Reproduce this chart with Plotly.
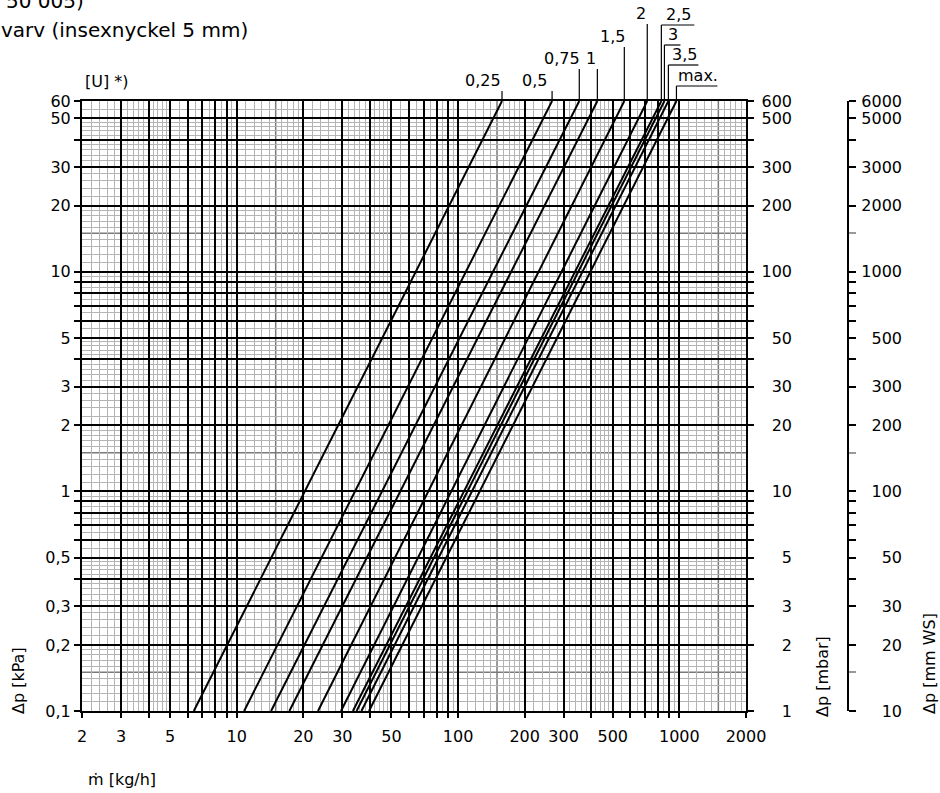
import numpy as np
import plotly.graph_objects as go

# ---------------- data ----------------
settings = ["0,25", "0,5", "0,75", "1", "1,5", "2", "2,5", "3", "3,5", "max."]
dp_ends = [0.1, 60]                       # kPa, ends of every characteristic line
flow_at_min_dp = [6.4, 10.8, 14.3, 17.3, 23.3, 29.6, 33.5, 34.8, 36.6, 39.6]   # kg/h at 0.1 kPa
flow_at_max_dp = [158, 266, 353, 426, 564, 716, 829, 856, 892, 970]            # kg/h at 60 kPa

x_label_vals = [2, 3, 5, 10, 20, 30, 50, 100, 200, 300, 500, 1000, 2000]
x_label_text = ["2", "3", "5", "10", "20", "30", "50", "100", "200", "300", "500", "1000", "2000"]
y_label_vals = [0.1, 0.2, 0.3, 0.5, 1, 2, 3, 5, 10, 20, 30, 50, 60]
y_label_text = ["0,1", "0,2", "0,3", "0,5", "1", "2", "3", "5", "10", "20", "30", "50", "60"]
mbar_label_vals = [1, 2, 3, 5, 10, 20, 30, 50, 100, 200, 300, 500, 600]
ws_label_vals = [10, 20, 30, 50, 100, 200, 300, 500, 1000, 2000, 3000, 5000, 6000]

# ---------------- layout constants ----------------
W, H = 940, 793
ML, MR, MT, MB = 82, 10, 101, 82
PW = W - ML - MR
PH = H - MT - MB
PLOT_RIGHT = 746
FONT = "DejaVu Sans, Arial, sans-serif"


def X(px):
    return (px - ML) / PW


def Y(py):
    return (H - MB - py) / PH


def majors(lo, hi):
    out = []
    for d in [0.1, 1, 10, 100, 1000]:
        for k in range(1, 10):
            v = round(k * d, 6)
            if lo - 1e-9 <= v <= hi + 1e-9:
                out.append(v)
    return out


def minors(lo, hi):
    out = []
    for d in [0.1, 1, 10, 100, 1000]:
        rel = [1 + 0.1 * i for i in range(1, 10)] + [2 + 0.2 * i for i in range(1, 15) if i % 5 != 0] + \
              [5.5, 6.5, 7.5, 8.5, 9.5]
        for r in rel:
            v = round(r * d, 6)
            if lo < v < hi and abs(r - 1.5) > 1e-9:
                out.append(v)
    return out


def labels(vals, lab_vals, lab_text):
    res = []
    for v in vals:
        t = ""
        for lv, lt in zip(lab_vals, lab_text):
            if abs(v - lv) < 1e-9:
                t = lt
        res.append(t)
    return res


xmaj = majors(2, 2000)
ymaj = majors(0.1, 60)
xmin_ = minors(2, 2000)
ymin_ = minors(0.1, 60)

fig = go.Figure()

for i, name in enumerate(settings):
    fig.add_trace(go.Scatter(
        x=[flow_at_min_dp[i], flow_at_max_dp[i]], y=dp_ends,
        mode="lines", line=dict(color="black", width=2),
        name=name, showlegend=False, hoverinfo="skip"))

for ax in ["y2", "y3", "y4"]:
    fig.add_trace(go.Scatter(x=[None], y=[None], yaxis=ax, showlegend=False, hoverinfo="skip"))

tickfont = dict(family=FONT, size=16, color="black")

fig.update_layout(
    width=W, height=H,
    margin=dict(l=ML, r=MR, t=MT, b=MB, autoexpand=False),
    paper_bgcolor="white", plot_bgcolor="white",
    font=dict(family=FONT, size=16, color="black"),
    xaxis=dict(
        type="log", range=[np.log10(2), np.log10(2000)], domain=[0, (PLOT_RIGHT - ML) / PW],
        tickmode="array", tickvals=xmaj, ticktext=labels(xmaj, x_label_vals, x_label_text),
        ticks="outside", ticklen=5, tickwidth=2, tickcolor="black", ticklabelstandoff=5,
        showgrid=True, gridcolor="black", gridwidth=2,
        showline=True, linecolor="black", linewidth=2, mirror=True,
        minor=dict(tickmode="array", tickvals=xmin_, showgrid=True, gridcolor="#b4b4b4", gridwidth=1, ticks=""),
        tickfont=tickfont, zeroline=False),
    yaxis=dict(
        type="log", range=[-1, np.log10(60)],
        tickmode="array", tickvals=ymaj, ticktext=labels(ymaj, y_label_vals, y_label_text),
        ticks="outside", ticklen=6, tickwidth=2, tickcolor="black", ticklabelstandoff=0,
        showgrid=True, gridcolor="black", gridwidth=2,
        showline=True, linecolor="black", linewidth=2, mirror="ticks",
        minor=dict(tickmode="array", tickvals=ymin_, showgrid=True, gridcolor="#b4b4b4", gridwidth=1, ticks=""),
        tickfont=tickfont, zeroline=False),
    yaxis2=dict(
        type="log", range=[0, np.log10(600)], overlaying="y", side="left", anchor="free",
        position=X(792), tickmode="array", tickvals=mbar_label_vals,
        ticktext=[str(v) for v in mbar_label_vals], ticks="", showgrid=False, showline=False,
        tickfont=tickfont, zeroline=False),
    yaxis3=dict(
        type="log", range=[1, np.log10(6000)], overlaying="y", side="right", anchor="free",
        position=X(848), tickmode="array", tickvals=majors(10, 6000), showticklabels=False,
        ticks="outside", ticklen=7, tickwidth=2, tickcolor="black",
        minor=dict(tickmode="array", tickvals=[15, 150, 1500], ticks="outside", ticklen=7,
                   tickwidth=2, tickcolor="#999999", showgrid=False),
        showgrid=False, showline=True, linecolor="black", linewidth=2, zeroline=False),
    yaxis4=dict(
        type="log", range=[1, np.log10(6000)], overlaying="y", side="left", anchor="free",
        position=X(902), tickmode="array", tickvals=ws_label_vals,
        ticktext=[str(v) for v in ws_label_vals], ticks="", showgrid=False, showline=False,
        tickfont=tickfont, zeroline=False),
)

# darker 1.5-lines of the log grid
for v in [15, 150, 1500]:
    fig.add_shape(type="line", xref="x", yref="paper", x0=v, x1=v, y0=0, y1=1,
                  line=dict(color="#7a7a7a", width=1.5), layer="between")
for v in [0.15, 1.5, 15]:
    fig.add_shape(type="line", xref="paper", yref="y", x0=0, x1=(PLOT_RIGHT - ML) / PW, y0=v, y1=v,
                  line=dict(color="#7a7a7a", width=1.5), layer="between")

# leader lines and labels for the presetting curves (layout offsets in pixels)
rise = [10, 10, 32, 32, 54, 77, 76, 56, 36, 15]
underline = [-39, -36, -35, -15, -35, -19, 33, 16, 30, 41]
text_dx = [-19, -17.5, -17.5, -6.5, -11.5, -6, 17.5, 9, 16.5, 21.5]
for i, name in enumerate(settings):
    xa = flow_at_max_dp[i]
    fig.add_shape(type="line", xref="x", xsizemode="pixel", xanchor=xa, x0=0, x1=0,
                  yref="paper", ysizemode="pixel", yanchor=1, y0=0, y1=rise[i],
                  line=dict(color="black", width=1.2))
    fig.add_shape(type="line", xref="x", xsizemode="pixel", xanchor=xa, x0=0, x1=underline[i],
                  yref="paper", ysizemode="pixel", yanchor=1, y0=rise[i], y1=rise[i],
                  line=dict(color="black", width=1.2))
    fig.add_annotation(text=name, xref="x", x=np.log10(xa), yref="paper", y=1,
                       xanchor="center", yanchor="bottom", xshift=text_dx[i], yshift=rise[i] - 1,
                       showarrow=False, font=dict(family=FONT, size=16, color="black"))

def ann(text, px, py, size=16, angle=0, xanchor="center", yanchor="middle"):
    fig.add_annotation(text=text, xref="paper", yref="paper", x=X(px), y=Y(py),
                       xanchor=xanchor, yanchor=yanchor, textangle=angle, showarrow=False,
                       font=dict(family=FONT, size=size, color="black"))

ann("Δp [kPa]", 18, 681, angle=-90)
ann("Δp [mbar]", 822, 677, angle=-90)
ann("Δp [mm WS]", 929, 664, angle=-90)
ann("ṁ [kg/h]", 86, 779, xanchor="left")
ann("[U] *)", 83, 82, xanchor="left")
ann("varv (insexnyckel 5 mm)", -1, 30, size=20, xanchor="left")
ann("50 005)", 86, 1, size=20, xanchor="right")

fig.write_html("out.html", config={"displayModeBar": False},
               post_script="document.body.style.margin='0';")
